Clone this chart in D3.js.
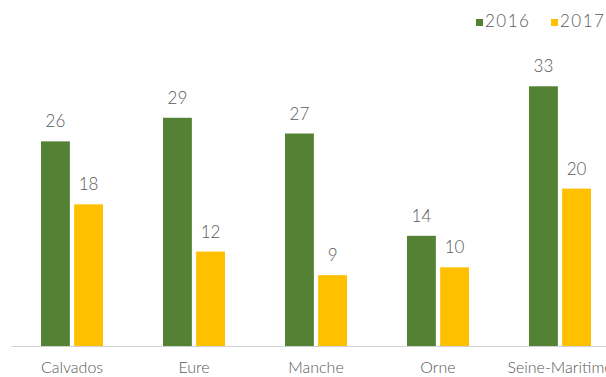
<!DOCTYPE html>
<html>
<head>
<meta charset="utf-8">
<script src="https://cdn.jsdelivr.net/npm/d3@7"></script>
<style>
  html, body { margin: 0; padding: 0; background: #fff; }
  svg { display: block; }
  text { font-family: "Lato", "DejaVu Sans", sans-serif; font-weight: 300; fill: #595959; }
</style>
</head>
<body>
<svg id="chart" width="606" height="377"></svg>
<script>
// Departments of Normandy
const categories = ["Calvados", "Eure", "Manche", "Orne", "Seine-Maritime"];
const seriesNames = ["2016", "2017"];
const values2016 = [26, 29, 27, 14, 33];
const values2017 = [18, 12, 9, 10, 20];
const seriesColors = ["#548235", "#FFC000"];

const series = [values2016, values2017];
const svg = d3.select("#chart");

const baseline = 346;
const x = d3.scaleBand().domain(categories).range([11, 621]).paddingInner(0).paddingOuter(0);
const y = d3.scaleLinear().domain([0, 35]).range([baseline, baseline - 35 * 7.87]);
const inner = d3.scaleBand().domain(seriesNames).range([30, 92]).paddingInner(8 / 62);

// bars with value labels
categories.forEach((cat, i) => {
  const g = svg.append("g").attr("transform", `translate(${x(cat)},0)`);
  seriesNames.forEach((s, j) => {
    const v = series[j][i];
    g.append("rect")
      .attr("x", inner(s))
      .attr("width", inner.bandwidth())
      .attr("y", y(v))
      .attr("height", y(0) - y(v))
      .attr("fill", seriesColors[j]);
    g.append("text")
      .attr("x", inner(s) + inner.bandwidth() / 2)
      .attr("y", y(v) - 14)
      .attr("text-anchor", "middle")
      .attr("font-size", 17)
      .text(v);
  });
});

// category axis
const axis = d3.axisBottom(x).tickSize(0).tickPadding(16);
const ag = svg.append("g").attr("transform", `translate(0,${baseline})`).call(axis);
ag.select(".domain").attr("stroke", "#d0d0d0").attr("stroke-width", 1);
ag.selectAll("text").attr("font-size", 16).attr("fill", "#595959")
  .style("font-family", '"Lato", "DejaVu Sans", sans-serif').style("font-weight", 300);
ag.selectAll(".tick text").attr("dy", "0.71em");

// legend
const legend = svg.append("g");
const legendX = [476, 551];
seriesNames.forEach((s, j) => {
  legend.append("rect")
    .attr("x", legendX[j]).attr("y", 19).attr("width", 7).attr("height", 7)
    .attr("fill", seriesColors[j]);
  legend.append("text")
    .attr("x", legendX[j] + 9).attr("y", 27)
    .attr("font-size", 17)
    .attr("letter-spacing", 1.5)
    .text(s);
});
</script>
</body>
</html>
